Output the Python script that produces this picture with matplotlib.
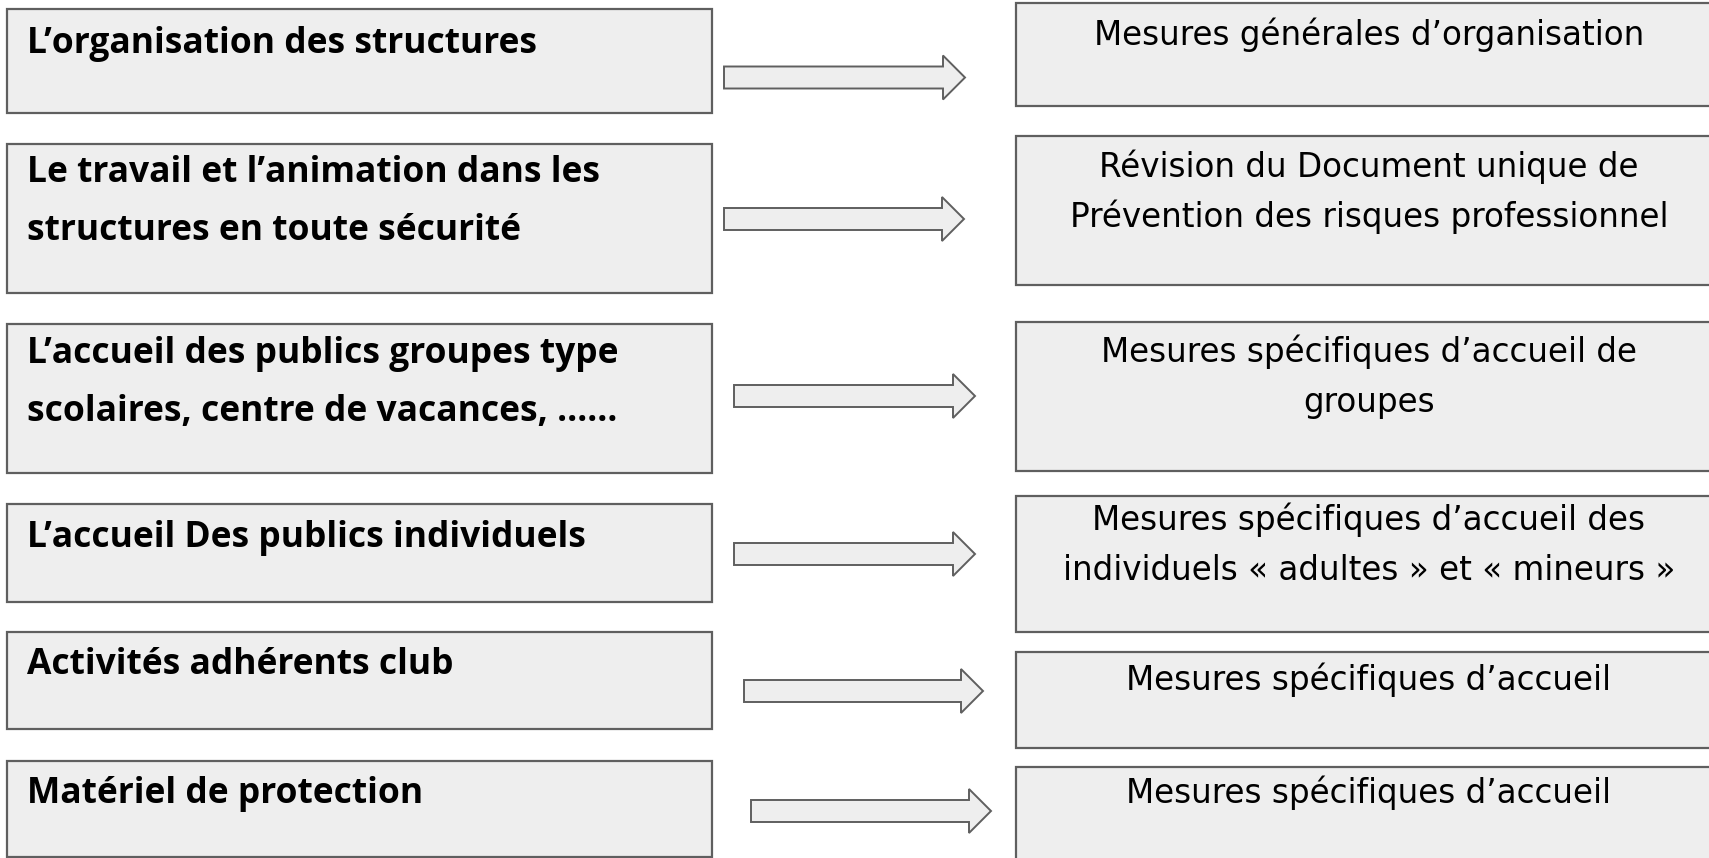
import matplotlib
matplotlib.use("Agg")
import matplotlib.pyplot as plt
from matplotlib.patches import Rectangle

# labels of the left column (one list of lines per box)
LEFT_LABELS = [
    ["L\u2019organisation des structures"],
    ["Le travail et l\u2019animation dans les", "structures en toute s\u00e9curit\u00e9"],
    ["L\u2019accueil des publics groupes type", "scolaires, centre de vacances, \u2026\u2026"],
    ["L\u2019accueil Des publics individuels"],
    ["Activit\u00e9s adh\u00e9rents club"],
    ["Mat\u00e9riel de protection"],
]
# labels of the right column
RIGHT_LABELS = [
    ["Mesures g\u00e9n\u00e9rales d\u2019organisation"],
    ["R\u00e9vision du Document unique de", "Pr\u00e9vention des risques professionnel"],
    ["Mesures sp\u00e9cifiques d\u2019accueil de", "groupes"],
    ["Mesures sp\u00e9cifiques d\u2019accueil des", "individuels \u00ab adultes \u00bb et \u00ab mineurs \u00bb"],
    ["Mesures sp\u00e9cifiques d\u2019accueil"],
    ["Mesures sp\u00e9cifiques d\u2019accueil"],
]

# layout (pixels, y downwards)
LEFT_X = (7, 712)
LEFT_Y = [(9, 113), (144, 293), (324, 473), (504, 602), (632, 729), (761, 857)]
LEFT_BASE = [53, 182, 363, 547, 674, 803]
RIGHT_X = (1016, 1725)
RIGHT_Y = [(3, 106), (136, 285), (322, 471), (496, 632), (652, 748), (767, 870)]
RIGHT_BASE = [45, 177, 362, 530, 690, 803]
ARROW_X = [(724, 965), (724, 964), (734, 975), (734, 975), (744, 983), (751, 991)]
ARROW_Y = [77.5, 219, 396, 554, 691, 811]

FILL = "#eeeeee"
EDGE = "#5f5f5f"

W, H = 1709, 858
fig = plt.figure(figsize=(W / 100, H / 100), dpi=100)
ax = fig.add_axes([0, 0, 1, 1])
ax.set_xlim(0, W)
ax.set_ylim(H, 0)
ax.axis("off")

for i, lines in enumerate(LEFT_LABELS):
    y0, y1 = LEFT_Y[i]
    ax.add_patch(Rectangle((LEFT_X[0], y0), LEFT_X[1] - LEFT_X[0], y1 - y0,
                           facecolor=FILL, edgecolor=EDGE, lw=1.6))
    for j, line in enumerate(lines):
        ax.text(27, LEFT_BASE[i] + j * 58, line, fontsize=25.5, fontweight="bold",
                family="Open Sans", va="baseline", ha="left", color="black")

for i, lines in enumerate(RIGHT_LABELS):
    y0, y1 = RIGHT_Y[i]
    ax.add_patch(Rectangle((RIGHT_X[0], y0), RIGHT_X[1] - RIGHT_X[0], y1 - y0,
                           facecolor=FILL, edgecolor=EDGE, lw=1.6))
    cx = 1369
    for j, line in enumerate(lines):
        ax.text(cx, RIGHT_BASE[i] + j * 50, line, fontsize=23.5,
                family="DejaVu Sans", va="baseline", ha="center", color="black")

for (x0, x1), yc in zip(ARROW_X, ARROW_Y):
    ax.arrow(x0, yc, x1 - x0, 0, width=22, head_width=44, head_length=22,
             length_includes_head=True, facecolor=FILL, edgecolor=EDGE, lw=1.4)

fig.savefig("out.png", dpi=100)
